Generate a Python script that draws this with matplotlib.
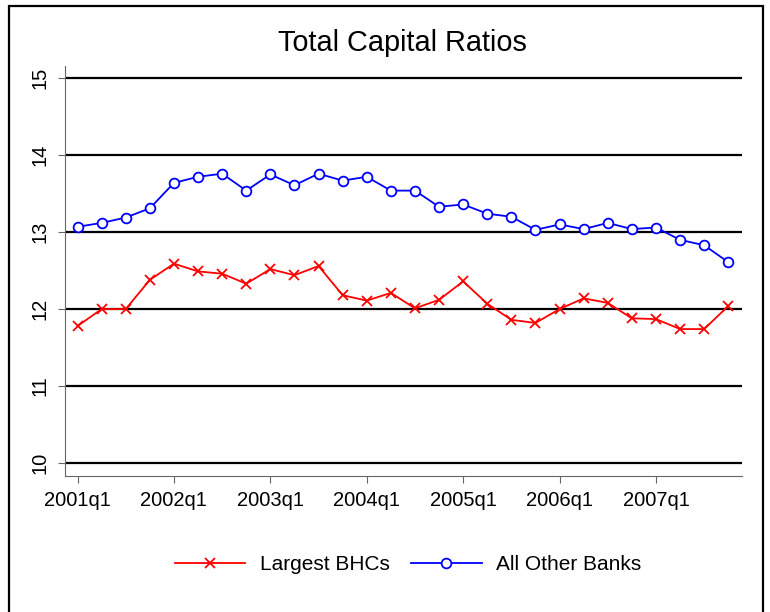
import matplotlib
matplotlib.use("Agg")
import matplotlib.pyplot as plt
from matplotlib.patches import Rectangle
import numpy as np

plt.rcParams['font.family'] = ['Liberation Sans', 'DejaVu Sans']

# quarterly observations, 2001q1 .. 2007q4
quarters = [f"{y}q{q}" for y in range(2001, 2008) for q in range(1, 5)]
largest_bhcs = [11.78, 12.00, 12.00, 12.38, 12.59, 12.49, 12.46, 12.33,
                12.52, 12.44, 12.56, 12.18, 12.11, 12.21, 12.01, 12.12,
                12.36, 12.07, 11.86, 11.82, 12.00, 12.14, 12.08, 11.88,
                11.87, 11.74, 11.74, 12.04]
other_banks = [13.07, 13.12, 13.19, 13.31, 13.64, 13.72, 13.76, 13.54,
               13.75, 13.61, 13.76, 13.67, 13.72, 13.54, 13.54, 13.33,
               13.36, 13.24, 13.20, 13.03, 13.10, 13.04, 13.12, 13.04,
               13.06, 12.90, 12.83, 12.61]
yticks = [10, 11, 12, 13, 14, 15]
xtick_labels = ["2001q1", "2002q1", "2003q1", "2004q1", "2005q1", "2006q1", "2007q1"]

x = np.arange(len(quarters))

fig = plt.figure(figsize=(7.7, 6.12), dpi=100)
ax = fig.add_axes([65/770, 1-476/612, (742-65)/770, (476-66)/612])

# outer frame (bottom edge runs off the image)
fig.patches.append(Rectangle((9/770, -0.05), (763-9)/770, 1.05-6/612,
                             transform=fig.transFigure, fill=False,
                             edgecolor='black', linewidth=1.6))

for yv in yticks:
    ax.axhline(yv, color='black', linewidth=1.6, zorder=1)

ax.plot(x, largest_bhcs, color='red', marker='x', markersize=7,
        markeredgewidth=1.3, linewidth=1.3, label='Largest BHCs', zorder=3)
ax.plot(x, other_banks, color='blue', marker='o', markersize=7,
        markerfacecolor='white', markeredgewidth=1.3, linewidth=1.3,
        label='All Other Banks', zorder=3)

ax.set_xlim(-0.52, 27.57)
ax.set_ylim(9.83, 15.16)
ax.set_yticks(yticks)
ax.set_yticklabels([str(v) for v in yticks], rotation=90, va='center')
ax.set_xticks(x[::4])
ax.set_xticklabels(xtick_labels)
ax.tick_params(axis='both', labelsize=14.5, length=5, width=0.8, color='#666666')
ax.tick_params(axis='y', pad=6)
ax.tick_params(axis='x', pad=6)

for side in ['top', 'right']:
    ax.spines[side].set_visible(False)
for side in ['left', 'bottom']:
    ax.spines[side].set_linewidth(0.8)
    ax.spines[side].set_color('#666666')

fig.text(0.522, 1-43/612, "Total Capital Ratios", ha='center', va='center', fontsize=20.8)

fig.legend(loc='center', bbox_to_anchor=(408/770, 1-565/612), ncol=2,
           frameon=False, fontsize=15, handlelength=3.4, columnspacing=1.0,
           handletextpad=0.7)

fig.savefig("out.png", dpi=100)
